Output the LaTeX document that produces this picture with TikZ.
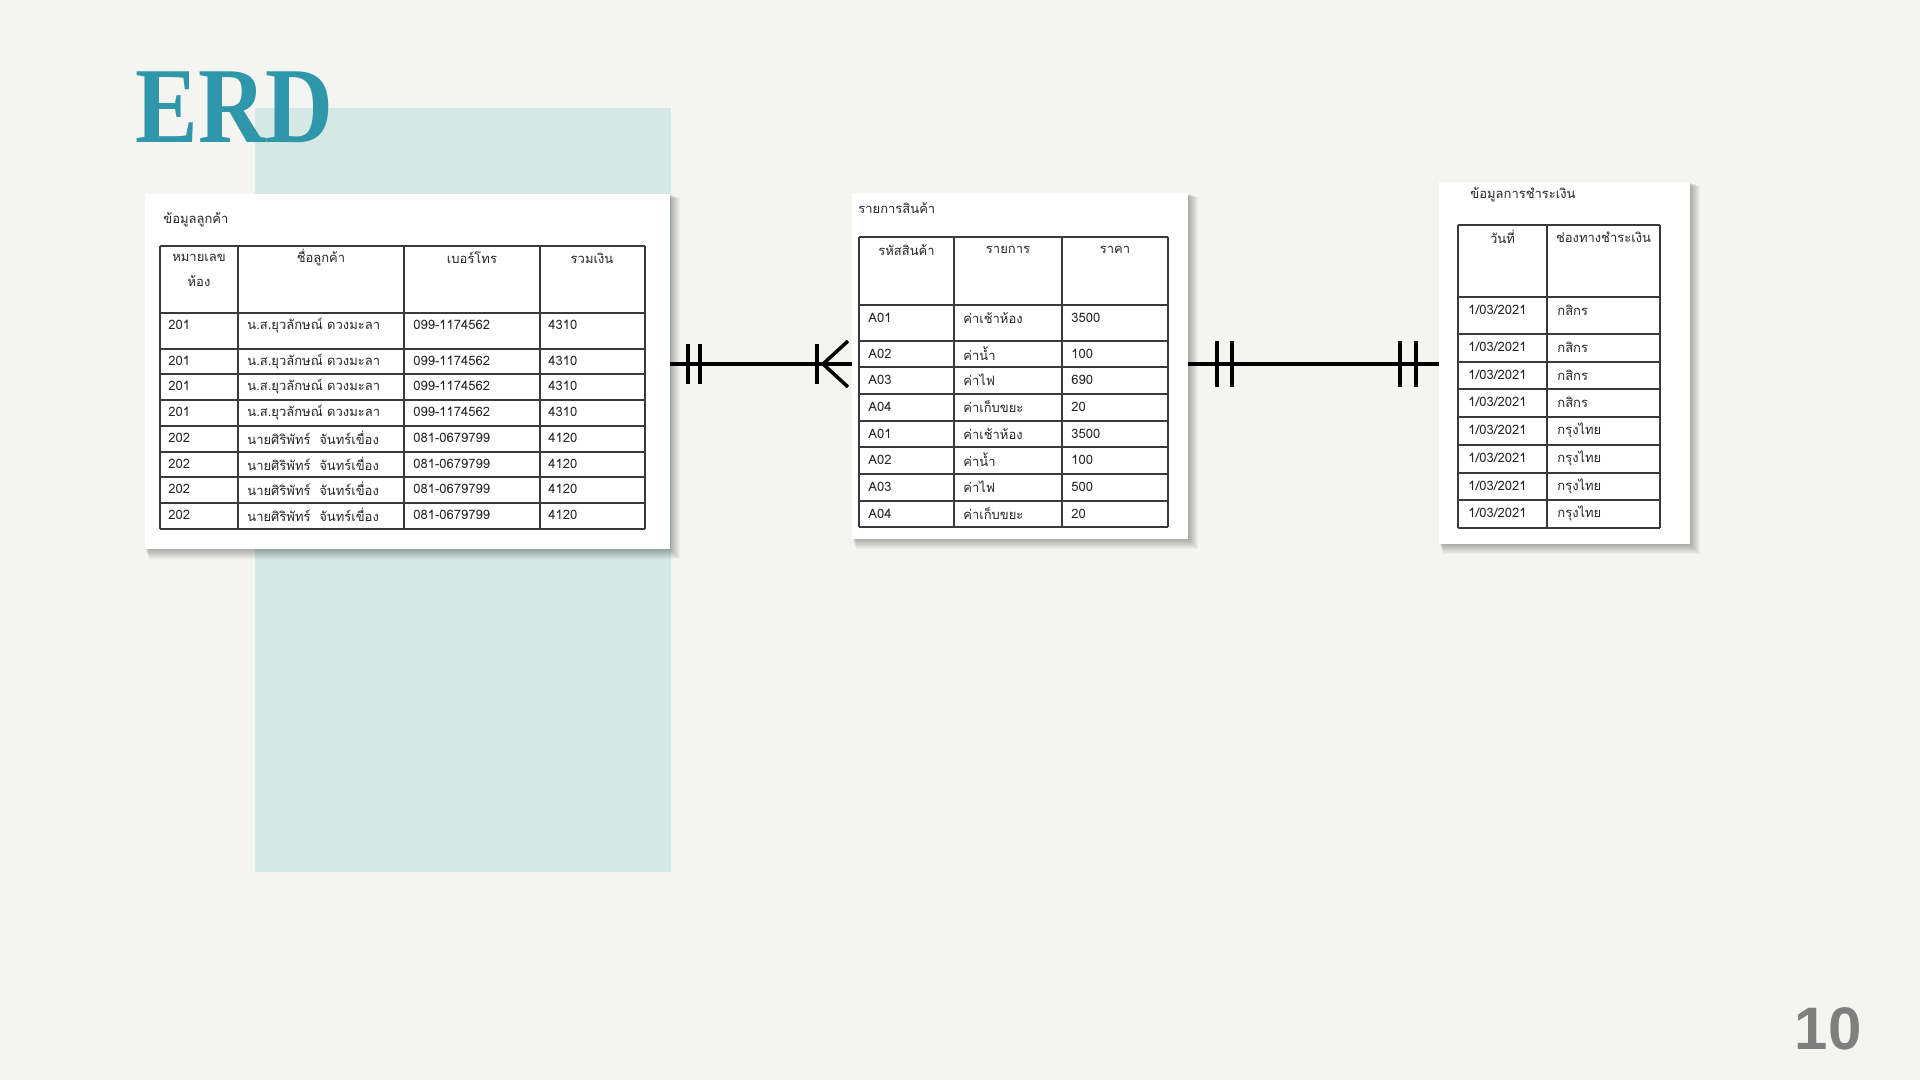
\documentclass[tikz,border=0pt]{standalone}
\usepackage{fontspec}
\setmainfont{Liberation Serif}
\newfontfamily\thaifont[Script=Thai]{Loma}
\newfontfamily\numfont{Liberation Sans}
\usetikzlibrary{calc}
\definecolor{bgcol}{HTML}{F4F5F0}
\definecolor{tealbox}{HTML}{D5E8E4}
\definecolor{titlecol}{HTML}{2F97A9}
\definecolor{gridcol}{HTML}{3A3A3A}
\definecolor{pagecol}{HTML}{7F7F7F}

\begin{document}
\begin{tikzpicture}[x=0.5pt,y=-0.5pt,
        card/.style={fill=white,inner sep=0,outer sep=0,anchor=north west},
        cell/.style={font=\thaifont\fontsize{6.5}{8}\selectfont,text=black!85,inner sep=0,anchor=west},
        headcell/.style={font=\thaifont\fontsize{6.5}{12.5}\selectfont,text=black!85,inner sep=0,align=center},
        tabline/.style={draw=gridcol,line width=0.6pt},
        rel/.style={line width=1.75pt,black}]
        \useasboundingbox (0,0) rectangle (1920,1080);
        \fill[bgcol] (0,0) rectangle (1920,1080);
        \fill[tealbox] (255,108) rectangle (671,872);

        \node[anchor=base west,inner sep=0,text=titlecol,font=\bfseries\fontsize{54}{60}\selectfont] (erd) at (135,143) {\scalebox{0.87}[1]{ERD}};
        \node[font=\numfont\bfseries\fontsize{30}{30}\selectfont,text=pagecol] (pnum) at (1828,1029) {10};

        % shadows of the cards
        \foreach \xa/\ya/\xb/\yb in {145/194/670/549,852/193/1188/539,1439/182/1690/544} {
            \foreach \i in {1,...,10} {
                \fill[black,opacity=0.03] (\xa+\i*0.4,\ya+\i*0.4) rectangle (\xb+\i,\yb+\i);
            }
        }
        \node[card,minimum width=262.5pt,minimum height=177.5pt] (cust) at (145,194) {};
        \node[card,minimum width=168pt,minimum height=173pt] (item) at (852,193) {};
        \node[card,minimum width=125.5pt,minimum height=181pt] (pay) at (1439,182) {};

        % customer table
        \node[cell] (cu-title) at (163,220) {ข้อมูลลูกค้า};
        \foreach \x in {160,238,404,540,645}
            \draw[tabline] (\x,246) -- (\x,529);
        \foreach \y in {246,313,349,374,400,426,452,477,503,529}
            \draw[tabline] (160,\y) -- (645,\y);
        \node[headcell] (cu-h1) at (199,270.5) {หมายเลข\\ห้อง};
        \node[headcell] (cu-h2) at (321,258) {ชื่อลูกค้า};
        \node[headcell] (cu-h3) at (472,258) {เบอร์โทร};
        \node[headcell] (cu-h4) at (592,258) {รวมเงิน};
        \foreach \r/\y/\a/\b/\c/\d in {1/313/201/{น.ส.ยุวลักษณ์ ดวงมะลา}/099-1174562/4310,
                2/349/201/{น.ส.ยุวลักษณ์ ดวงมะลา}/099-1174562/4310,
                3/374/201/{น.ส.ยุวลักษณ์ ดวงมะลา}/099-1174562/4310,
                4/400/201/{น.ส.ยุวลักษณ์ ดวงมะลา}/099-1174562/4310,
                5/426/202/{นายศิริพัทร์\ \ จันทร์เขื่อง}/081-0679799/4120,
                6/452/202/{นายศิริพัทร์\ \ จันทร์เขื่อง}/081-0679799/4120,
                7/477/202/{นายศิริพัทร์\ \ จันทร์เขื่อง}/081-0679799/4120,
                8/503/202/{นายศิริพัทร์\ \ จันทร์เขื่อง}/081-0679799/4120} {
            \node[cell] (cu-\r-1) at (168,\y+12) {\a};
            \node[cell] (cu-\r-2) at (247,\y+12) {\b};
            \node[cell] (cu-\r-3) at (413,\y+12) {\c};
            \node[cell] (cu-\r-4) at (548,\y+12) {\d};
        }

        % product table
        \node[cell] (it-title) at (858,208) {รายการสินค้า};
        \foreach \x in {859,954,1062,1168}
            \draw[tabline] (\x,237) -- (\x,527);
        \foreach \y in {237,305,341,367,394,421,447,474,501,527}
            \draw[tabline] (859,\y) -- (1168,\y);
        \node[headcell] (it-h1) at (906.5,250) {รหัสสินค้า};
        \node[headcell] (it-h2) at (1008,250) {รายการ};
        \node[headcell] (it-h3) at (1115,250) {ราคา};
        \foreach \r/\y/\a/\b/\c in {1/305/A01/ค่าเช้าห้อง/3500,2/341/A02/ค่าน้ำ/100,
                3/367/A03/ค่าไฟ/690,4/394/A04/ค่าเก็บขยะ/20,5/421/A01/ค่าเช้าห้อง/3500,
                6/447/A02/ค่าน้ำ/100,7/474/A03/ค่าไฟ/500,8/501/A04/ค่าเก็บขยะ/20} {
            \node[cell] (it-\r-1) at (868,\y+13) {\a};
            \node[cell] (it-\r-2) at (963,\y+13) {\b};
            \node[cell] (it-\r-3) at (1071,\y+13) {\c};
        }

        % payment table
        \node[cell] (pa-title) at (1470,195) {ข้อมูลการชำระเงิน};
        \foreach \x in {1458,1547,1660}
            \draw[tabline] (\x,225) -- (\x,528);
        \foreach \y in {225,297,334,362,389,417,445,473,500,528}
            \draw[tabline] (1458,\y) -- (1660,\y);
        \node[headcell] (pa-h1) at (1502.5,237) {วันที่};
        \node[headcell] (pa-h2) at (1603.5,237) {ช่องทางชำระเงิน};
        \foreach \r/\y/\b in {1/297/กสิกร,2/334/กสิกร,3/362/กสิกร,4/389/กสิกร,
                5/417/กรุงไทย,6/445/กรุงไทย,7/473/กรุงไทย,8/500/กรุงไทย} {
            \node[cell] (pa-\r-1) at (1468,\y+13) {1/03/2021};
            \node[cell] (pa-\r-2) at (1557,\y+13) {\b};
        }

        % relationships
        \coordinate (r1a) at (cust.east |- 0,364);
        \coordinate (r1b) at (item.west |- 0,364);
        \coordinate (r2a) at (item.east |- 0,364);
        \coordinate (r2b) at (pay.west |- 0,364);
        \draw[rel] (r1a) -- (r1b);
        \draw[rel] ($(r1a)+(18,-20)$) -- ++(0,40);
        \draw[rel] ($(r1a)+(30,-20)$) -- ++(0,40);
        \draw[rel] ($(r1b)+(-35,-20)$) -- ++(0,40);
        \draw[rel] ($(r1b)+(-4,-23)$) -- ($(r1b)+(-29,0)$) -- ($(r1b)+(-4,23)$);
        \draw[rel] (r2a) -- (r2b);
        \draw[rel] ($(r2a)+(29,-23)$) -- ++(0,46);
        \draw[rel] ($(r2a)+(44,-23)$) -- ++(0,46);
        \draw[rel] ($(r2b)+(-39,-23)$) -- ++(0,46);
        \draw[rel] ($(r2b)+(-23,-23)$) -- ++(0,46);
\end{tikzpicture}
\end{document}
